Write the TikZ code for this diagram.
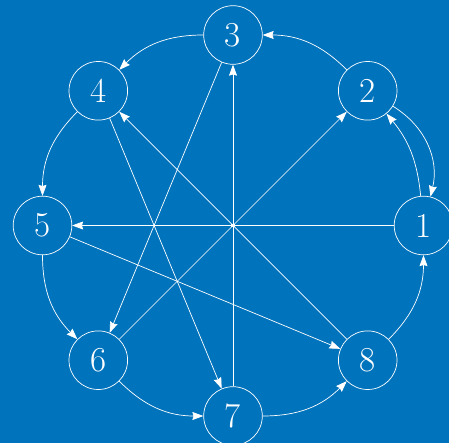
\documentclass[tikz,border=0pt]{standalone}
\usetikzlibrary{arrows.meta}
\definecolor{bgblue}{RGB}{0,115,189}
\begin{document}
\begin{tikzpicture}[x=1pt,y=-1pt,
  vnode/.style={circle,draw=white,line width=0.7pt,minimum size=58.6pt,inner sep=0pt,
    text=white,font=\fontsize{35}{35}\selectfont},
  conn/.style={draw=white,line width=0.7pt,-{Stealth[inset=1.2pt,length=11pt,width=8pt]}},
  plain/.style={draw=white,line width=0.7pt}]
\fill[bgblue] (0,0) rectangle (449,443);
\useasboundingbox (0,0) rectangle (449,443);
\node[vnode] (n1) at (423.5,225.5) {1};
\node[vnode] (n2) at (367.7,90.8) {2};
\node[vnode] (n3) at (233,35) {3};
\node[vnode] (n4) at (98.3,90.8) {4};
\node[vnode] (n5) at (42.5,225.5) {5};
\node[vnode] (n6) at (98.3,360.2) {6};
\node[vnode] (n7) at (233,416) {7};
\node[vnode] (n8) at (367.7,360.2) {8};
% perimeter arcs
\draw[conn] (n2) to[bend right=22.5] (n3);
\draw[conn] (n3) to[bend right=22.5] (n4);
\draw[conn] (n4) to[bend right=22.5] (n5);
\draw[conn] (n5) to[bend right=22.5] (n6);
\draw[conn] (n6) to[bend right=22.5] (n7);
\draw[conn] (n7) to[bend right=22.5] (n8);
\draw[conn] (n8) to[bend right=22.5] (n1);
\draw[conn] (n1) to[bend right=17] (n2);
\draw[conn] (n2) to[bend left=36] (n1);
% straight lines
\draw[conn] (n1) -- (n5);
\draw[conn] (n6) -- (n2);
\draw[conn] (n7) -- (n3);
\draw[conn] (n8) -- (n4);
\draw[conn] (n3) -- (n6);
\draw[conn] (n4) -- (n7);
\draw[conn] (n5) -- (n8);
\node[rectangle,fill=white,inner sep=0pt,minimum size=3.5pt] (c) at (233,225.5) {};
\end{tikzpicture}
\end{document}
